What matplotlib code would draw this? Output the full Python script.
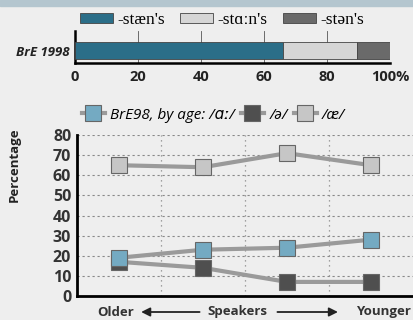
import matplotlib.pyplot as plt
from matplotlib.patches import Rectangle, FancyArrowPatch

# top bar: share of each pronunciation, BrE 1998
bar_labels = ["-stæn's", "-stɑːn's", "-stən's"]
bar_values = [66, 23.5, 10.5]
bar_colors = ['#2b6e88', '#d6d6d6', '#6a6a6a']

# bottom chart: by age group, older -> younger
age_groups = [0.5, 1.5, 2.5, 3.5]
aa_vals = [19, 23, 24, 28]      # /ɑː/
schwa_vals = [17, 14, 7, 7]     # /ə/
ae_vals = [65, 64, 71, 65]      # /æ/

bg = '#eeeeee'
fig = plt.figure(figsize=(4.13, 3.2), dpi=100, facecolor=bg)
fig.patches.append(Rectangle((0, 0.982), 1, 0.018, transform=fig.transFigure,
                             color='#b4c6cf', zorder=0))

serif = ['Liberation Serif', 'DejaVu Serif']
sans = ['Open Sans', 'DejaVu Sans']

# ---- top stacked bar ----
ax1 = fig.add_axes([0.182, 0.803, 0.763, 0.100])
ax1.set_facecolor(bg)
left = 0
handles = []
for lab, val, col in zip(bar_labels, bar_values, bar_colors):
    h = ax1.barh(0, val, left=left, height=1, color=col, edgecolor='#444444',
                 linewidth=0.6, label=lab, zorder=3)
    handles.append(h)
    left += val
ax1.set_xlim(0, 100)
ax1.set_ylim(-0.735, 1.147)
ax1.set_xticks([0, 20, 40, 60, 80, 100])
ax1.set_xticklabels(['0', '20', '40', '60', '80', '100%'], fontweight='bold',
                    fontsize=10.5, family=sans, color='#222222')
ax1.tick_params(axis='x', length=0, pad=5)
ax1.set_yticks([0])
ax1.set_yticklabels(['BrE 1998'], fontstyle='italic', fontweight='bold',
                    fontsize=9.5, family=sans, color='#222222')
ax1.tick_params(axis='y', length=0, pad=4)
ax1.grid(axis='x', color='#555555', linewidth=0.6, zorder=1)
for s in ['top', 'right']:
    ax1.spines[s].set_visible(False)
ax1.spines['left'].set_linewidth(1.8)
ax1.spines['bottom'].set_linewidth(1.8)
fig.legend(handles=handles, loc='center left', bbox_to_anchor=(0.155, 0.938),
           ncol=3, frameon=False, handlelength=1.9, handleheight=0.5,
           handletextpad=0.25, columnspacing=0.9,
           prop={'family': serif, 'size': 12.5})

# ---- bottom line chart ----
ax2 = fig.add_axes([0.186, 0.075, 0.814, 0.503])
ax2.set_facecolor(bg)
line_kw = dict(color='#9a9a9a', linewidth=3, marker='s', markersize=11.5,
               markeredgecolor='#666666', markeredgewidth=0.8)
l2 = ax2.plot(age_groups, schwa_vals, markerfacecolor='#4f4f4f', zorder=3,
              label='/ə/', **line_kw)[0]
l3 = ax2.plot(age_groups, ae_vals, markerfacecolor='#c6c6c6', zorder=3,
              label='/æ/', **line_kw)[0]
l1 = ax2.plot(age_groups, aa_vals, markerfacecolor='#74aac2', zorder=4,
              label='BrE98, by age: /ɑː/', **line_kw)[0]
ax2.set_xlim(0, 4)
ax2.set_ylim(0, 80)
ax2.set_yticks(range(0, 81, 10))
ax2.set_yticklabels([str(v) for v in range(0, 81, 10)], fontweight='bold',
                    fontsize=11.5, family=sans, color='#333333')
ax2.tick_params(axis='y', length=0, pad=4)
ax2.set_xticks([1, 2, 3])
ax2.set_xticklabels([])
ax2.tick_params(axis='x', length=0)
ax2.grid(axis='y', color='#888888', linestyle=(0, (2, 2.5)), linewidth=0.8, zorder=1)
ax2.grid(axis='x', color='#888888', linestyle=(0, (1, 3)), linewidth=0.9, zorder=1)
for s in ['top', 'right']:
    ax2.spines[s].set_visible(False)
ax2.spines['left'].set_linewidth(2)
ax2.spines['bottom'].set_linewidth(2)
fig.text(0.034, 0.485, 'Percentage', rotation=90, fontweight='bold', fontsize=9.5,
         family=sans, ha='center', va='center', color='#222222')

fig.legend(handles=[l1, l2, l3], loc='center left', bbox_to_anchor=(0.165, 0.640),
           ncol=3, frameon=False, handlelength=1.5, handletextpad=0.35,
           columnspacing=0.4, prop={'family': sans, 'size': 11, 'style': 'italic'})

# x-axis caption with arrows
cap_y = 0.025
fig.text(0.235, cap_y, 'Older', fontweight='bold', fontsize=9.5, family=sans,
         ha='left', va='center', color='#333333')
fig.text(0.575, cap_y, 'Speakers', fontweight='bold', fontsize=9.5, family=sans,
         ha='center', va='center', color='#333333')
fig.text(0.995, cap_y, 'Younger', fontweight='bold', fontsize=9.5, family=sans,
         ha='right', va='center', color='#333333')
arrow = dict(arrowstyle='-|>', color='#222222', linewidth=1.3, mutation_scale=13)
fig.add_artist(FancyArrowPatch((0.49, cap_y), (0.335, cap_y),
                               transform=fig.transFigure, **arrow))
fig.add_artist(FancyArrowPatch((0.665, cap_y), (0.825, cap_y),
                               transform=fig.transFigure, **arrow))

fig.savefig('out.png', dpi=100, facecolor=bg)
